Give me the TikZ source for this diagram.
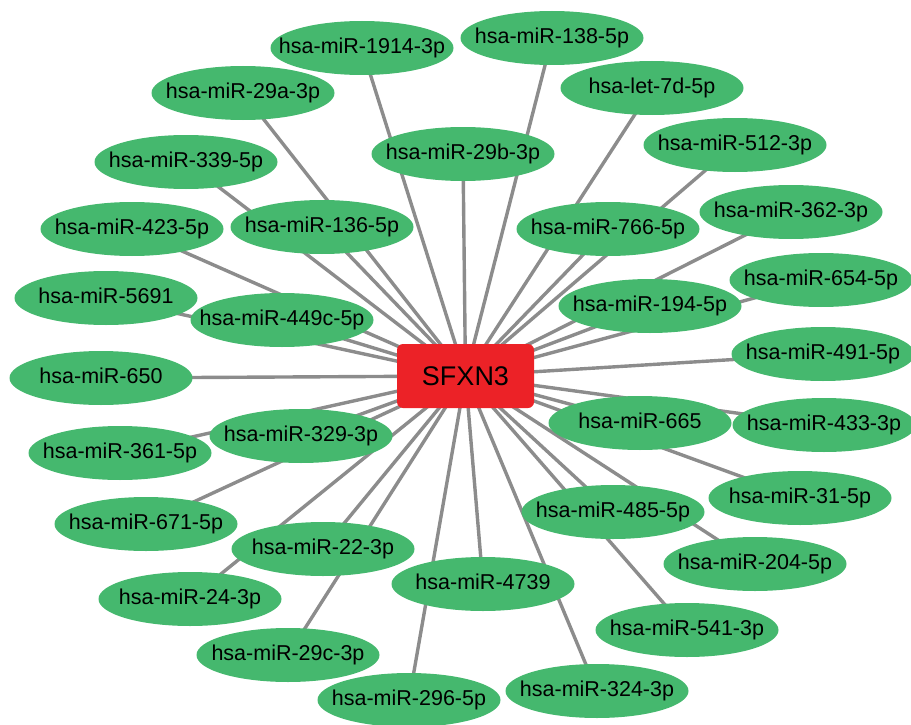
\documentclass[tikz,border=0pt]{standalone}
\usepackage{fontspec}
\setmainfont{Liberation Sans}
\usepackage{xcolor}
\usepackage{tikz}
\usetikzlibrary{shapes.geometric,backgrounds}
\definecolor{mirgreen}{RGB}{69,184,110}
\definecolor{genered}{RGB}{236,34,39}
\definecolor{edgegray}{RGB}{140,140,140}

\begin{document}
\begin{tikzpicture}[x=1pt,y=-1pt,
mir/.style={ellipse,fill=mirgreen,minimum width=183pt,minimum height=54pt,inner xsep=-45pt,inner ysep=0pt,text height=15.5pt,text depth=4.5pt,font=\fontsize{21.5}{24}\selectfont},
gene/.style={rectangle,rounded corners=6pt,fill=genered,minimum width=137pt,minimum height=64pt,font=\fontsize{27}{30}\selectfont},
lnk/.style={draw=edgegray,line width=3.4pt}]
\useasboundingbox (0,0) rectangle (911,725);
\node[gene] (sfxn3) at (465.5,376) {SFXN3};
\node[mir] (m1914) at (362,48) {hsa-miR-1914-3p};
\node[mir] (m138) at (552,38) {hsa-miR-138-5p};
\node[mir] (m29a) at (243,93) {hsa-miR-29a-3p};
\node[mir] (let7d) at (652,88) {hsa-let-7d-5p};
\node[mir] (m29b) at (463,154) {hsa-miR-29b-3p};
\node[mir] (m512) at (735,145) {hsa-miR-512-3p};
\node[mir] (m339) at (186,162) {hsa-miR-339-5p};
\node[mir] (m136) at (322,227) {hsa-miR-136-5p};
\node[mir] (m423) at (132,229) {hsa-miR-423-5p};
\node[mir] (m766) at (608,229) {hsa-miR-766-5p};
\node[mir] (m362) at (791,212) {hsa-miR-362-3p};
\node[mir] (m5691) at (106,298) {hsa-miR-5691};
\node[mir] (m449c) at (282,320) {hsa-miR-449c-5p};
\node[mir] (m194) at (650,306) {hsa-miR-194-5p};
\node[mir] (m654) at (821,280) {hsa-miR-654-5p};
\node[mir] (m650) at (101,378) {hsa-miR-650};
\node[mir] (m491) at (823,354) {hsa-miR-491-5p};
\node[mir] (m665) at (640,423) {hsa-miR-665};
\node[mir] (m433) at (824,425) {hsa-miR-433-3p};
\node[mir] (m329) at (301,436) {hsa-miR-329-3p};
\node[mir] (m361) at (120,453) {hsa-miR-361-5p};
\node[mir] (m31) at (800,498) {hsa-miR-31-5p};
\node[mir] (m485) at (613,512) {hsa-miR-485-5p};
\node[mir] (m671) at (146,524) {hsa-miR-671-5p};
\node[mir] (m22) at (323,549) {hsa-miR-22-3p};
\node[mir] (m204) at (755,564) {hsa-miR-204-5p};
\node[mir] (m4739) at (483,584) {hsa-miR-4739};
\node[mir] (m24) at (190,599) {hsa-miR-24-3p};
\node[mir] (m541) at (687,630) {hsa-miR-541-3p};
\node[mir] (m29c) at (288,655) {hsa-miR-29c-3p};
\node[mir] (m296) at (409,700) {hsa-miR-296-5p};
\node[mir] (m324) at (597,691) {hsa-miR-324-3p};
\begin{scope}[on background layer]
\draw[lnk] (sfxn3.center)--(m1914.center); \draw[lnk] (sfxn3.center)--(m138.center); \draw[lnk] (sfxn3.center)--(m29a.center); \draw[lnk] (sfxn3.center)--(let7d.center);
\draw[lnk] (sfxn3.center)--(m29b.center); \draw[lnk] (sfxn3.center)--(m512.center); \draw[lnk] (sfxn3.center)--(m339.center); \draw[lnk] (sfxn3.center)--(m136.center);
\draw[lnk] (sfxn3.center)--(m423.center); \draw[lnk] (sfxn3.center)--(m766.center); \draw[lnk] (sfxn3.center)--(m362.center); \draw[lnk] (sfxn3.center)--(m5691.center);
\draw[lnk] (sfxn3.center)--(m449c.center); \draw[lnk] (sfxn3.center)--(m194.center); \draw[lnk] (sfxn3.center)--(m654.center); \draw[lnk] (sfxn3.center)--(m650.center);
\draw[lnk] (sfxn3.center)--(m491.center); \draw[lnk] (sfxn3.center)--(m665.center); \draw[lnk] (sfxn3.center)--(m433.center); \draw[lnk] (sfxn3.center)--(m329.center);
\draw[lnk] (sfxn3.center)--(m361.center); \draw[lnk] (sfxn3.center)--(m31.center); \draw[lnk] (sfxn3.center)--(m485.center); \draw[lnk] (sfxn3.center)--(m671.center);
\draw[lnk] (sfxn3.center)--(m22.center); \draw[lnk] (sfxn3.center)--(m204.center); \draw[lnk] (sfxn3.center)--(m4739.center); \draw[lnk] (sfxn3.center)--(m24.center);
\draw[lnk] (sfxn3.center)--(m541.center); \draw[lnk] (sfxn3.center)--(m29c.center); \draw[lnk] (sfxn3.center)--(m296.center); \draw[lnk] (sfxn3.center)--(m324.center);
\end{scope}
\end{tikzpicture}
\end{document}
